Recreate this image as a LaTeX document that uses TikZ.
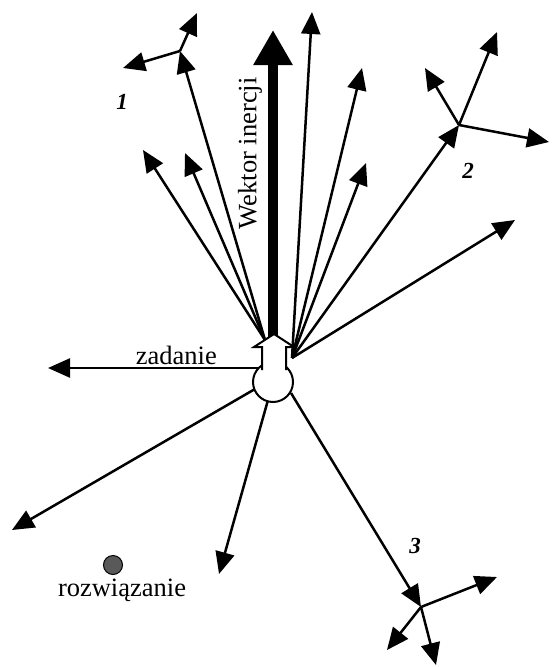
\documentclass[tikz,border=0pt]{standalone}
\usepackage{fontspec}
\setmainfont{Liberation Serif}
\usepackage{tikz}
\usetikzlibrary{arrows.meta,positioning}

\begin{document}
\begin{tikzpicture}[x=1pt, y=-1pt,
    arr/.style={-{Triangle[length=22pt, width=19pt]}, line width=2.5pt},
    inert/.style={-{Triangle[length=35pt, width=37pt]}, line width=10pt},
    lbl/.style={font=\fontsize{26.5}{28}\selectfont, inner sep=1pt},
    num/.style={font=\fontsize{23}{25}\selectfont\bfseries\itshape, inner sep=0pt},
    sol/.style={circle, draw, line width=1pt, fill=black!65, minimum size=19pt, inner sep=0pt}
]
\useasboundingbox (0,0) rectangle (552,667);

\coordinate (ol) at (265,340);
\coordinate (or) at (292,358);
\coordinate (ot) at (273,338);
\coordinate (ow) at (262,368);
\coordinate (osw) at (255,389);
\coordinate (os) at (268,400);
\coordinate (ose) at (291,393);

\coordinate (f1) at (180,51);
\coordinate (f2) at (459,125);
\coordinate (f3) at (421,607);

\coordinate (a) at (143,150);
\coordinate (b) at (185,153);
\coordinate (c) at (312,12);
\coordinate (d) at (362,68);
\coordinate (e) at (366,163);
\coordinate (g) at (515,220);
\coordinate (task) at (48,368);
\coordinate (h) at (12,530);
\coordinate (k) at (219,574);
\coordinate (inert) at (273,30);

\draw[arr] (ol) -- (f1);
\draw[arr] (ol) -- (a);
\draw[arr] (ol) -- (b);
\draw[arr] (or) -- (c);
\draw[arr] (or) -- (d);
\draw[arr] (or) -- (e);
\draw[arr] (or) -- (f2);
\draw[arr] (or) -- (g);
\draw[arr] (ow) -- node[lbl, pos=0.4, above=1pt] {zadanie} (task);
\draw[arr] (osw) -- (h);
\draw[arr] (os) -- (k);
\draw[arr] (ose) -- (f3);
\draw[inert] (ot) -- node[lbl, pos=0.6, sloped, above=5pt] {Wektor inercji} (inert);

\draw[arr] (f1) -- (197,13);
\draw[arr] (f1) -- (123,68);
\draw[arr] (f2) -- (497,32);
\draw[arr] (f2) -- (425,68);
\draw[arr] (f2) -- (549,142);
\draw[arr] (f3) -- (497,577);
\draw[arr] (f3) -- (387,650);
\draw[arr] (f3) -- (436,665);

\draw[line width=2pt, fill=white] (273,382) circle (20);
\draw[line width=2pt, fill=white] (262,370) -- (262,347) -- (254,347) -- (274,334) -- (294,347) -- (286,347) -- (286,370);

\node[num] (n1) at (122,102) {1};
\node[num] (n2) at (468,171) {2};
\node[num] (n3) at (415,546) {3};

\node[sol] (dot) at (113,565) {};
\node[lbl, below=3pt of dot, xshift=9pt] (soltext) {rozwiązanie};
\end{tikzpicture}
\end{document}
